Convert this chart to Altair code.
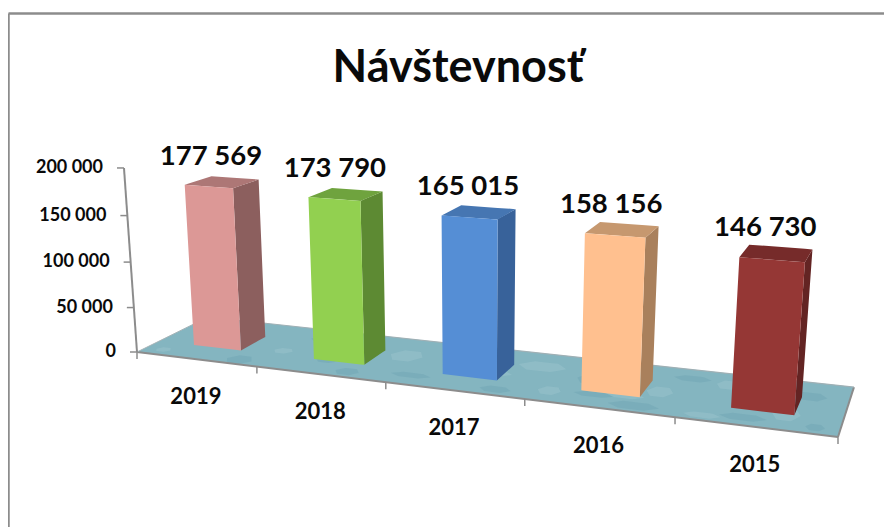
import altair as alt
import pandas as pd

title = "Návštevnosť"
years = ["2019", "2018", "2017", "2016", "2015"]
values = [177569, 173790, 165015, 158156, 146730]
labels = ["177 569", "173 790", "165 015", "158 156", "146 730"]
front = ["#DC9896", "#92D050", "#558ED5", "#FFC08F", "#953735"]
side = ["#8C5F5E", "#5D8A33", "#38629A", "#A9805C", "#632423"]
top = ["#AD7776", "#6FA33E", "#4676B2", "#C6986F", "#762B2A"]
ticks = [0, 50000, 100000, 150000, 200000]
tick_text = ["0", "50 000", "100 000", "150 000", "200 000"]
VMAX = 200000
# hand-placed mottles of the floor's water texture: u, w, radius u, radius w, tone
mottle_u = [.03, .16, .20, .24, .33, .38, .42, .47, .55, .58, .62, .68, .70, .74, .76, .79, .83, .84, .88, .93, .95, .97, .72, .66, .52, .28]
mottle_w = [.12, .10, .40, .75, .12, .60, .20, .80, .12, .70, .22, .25, .70, .12, .45, .80, .10, .75, .15, .30, .70, .12, .30, .55, .45, .30]
mottle_ru = [.012, .020, .015, .030, .018, .025, .030, .014, .022, .035, .016, .028, .020, .034, .018, .026, .024, .015, .030, .018, .022, .012, .026, .020, .032, .016]
mottle_rw = [.05, .09, .06, .08, .07, .12, .05, .09, .06, .10, .08, .05, .12, .07, .10, .06, .05, .09, .06, .12, .08, .06, .06, .10, .07, .05]
mottle_t = [0, 1, 0, 1, 1, 0, 1, 0, 1, 0, 0, 1, 0, 1, 0, 1, 0, 0, 1, 0, 1, 1, 0, 1, 0, 1]

W, H = 876, 519
FONT = "Lato"
GRAY = "#8C8C8C"


def proj(u, w, val):
    """Perspective camera of the 3-D chart: category u, depth w, value val."""
    v = val / VMAX
    d = -0.1747 * u + 0.0895 * w - 0.045 * v + 1
    return ((554.6 * u + 89.6 * w - 18.6 * v - 5.5 * u * v + 137) / d,
            (8.7 * u - 6.6 * w - 191.6 * v + 352) / d)


def poly_rows(pid, fill, pts, op=1.0):
    xs = sorted({round(p[0], 2) for p in pts})
    n = len(pts)
    rows = []
    for x in xs:
        ys = []
        for i in range(n):
            (x0, y0), (x1, y1) = pts[i], pts[(i + 1) % n]
            lo, hi = min(x0, x1), max(x0, x1)
            if lo - 0.01 <= x <= hi + 0.01:
                if abs(x1 - x0) < 1e-6:
                    ys += [y0, y1]
                else:
                    ys.append(y0 + (y1 - y0) * (x - x0) / (x1 - x0))
        rows.append(dict(pid=pid, fill=fill, op=op, x=x, y=min(ys), y2=max(ys)))
    return rows


U0, U1, W0, W1 = 0.06, 0.14, 0.30, 0.67
floor_rows = poly_rows("floor", "#84B5C0",
                       [proj(0, 0, 0), proj(1, 0, 0), proj(1, 1, 0), proj(0, 1, 0)])
tones = ["#A9CDD5", "#649CAB"]
for k, (mu, mw, ru, rw, mt) in enumerate(zip(mottle_u, mottle_w, mottle_ru, mottle_rw, mottle_t)):
    hexa = [(mu - ru, mw), (mu - ru / 2, mw - rw), (mu + ru / 2, mw - rw),
            (mu + ru, mw), (mu + ru / 2, mw + rw), (mu - ru / 2, mw + rw)]
    floor_rows += poly_rows(f"m{k:02d}", tones[mt], [proj(p, q, 0) for p, q in hexa], 0.3)

bar_rows, value_rows, year_rows = [], [], []
for i, val in enumerate(values):
    a, b = U0 + 0.2 * i, U1 + 0.2 * i
    bar_rows += poly_rows(f"s{i}", side[i], [proj(b, W0, 0), proj(b, W1, 0), proj(b, W1, val), proj(b, W0, val)])
    bar_rows += poly_rows(f"t{i}", top[i], [proj(a, W0, val), proj(b, W0, val), proj(b, W1, val), proj(a, W1, val)])
    bar_rows += poly_rows(f"f{i}", front[i], [proj(a, W0, 0), proj(b, W0, 0), proj(b, W0, val), proj(a, W0, val)])
    x, y = proj((a + b) / 2, (W0 + W1) / 2, val)
    value_rows.append(dict(x=x, y=y, t=labels[i]))
    x, y = proj((a + b) / 2, 0, 0)
    year_rows.append(dict(x=x, y=y, t=years[i]))

seg = []


def add(p, q, color, sw):
    seg.append(dict(x=p[0], y=p[1], x2=q[0], y2=q[1], color=color, sw=sw))


# chart frame
add((8.5, 13.5), (8.5, 527), GRAY, 2.5)
add((8.5, 13.5), (892, 13.5), GRAY, 2.5)
# floor edges
add(proj(0, 0, 0), proj(1, 0, 0), GRAY, 2)
add(proj(1, 0, 0), proj(1, 1, 0), GRAY, 2)
add(proj(0, 0, 0), proj(0, 1, 0), "#A6B4B8", 1)
add(proj(0, 1, 0), proj(1, 1, 0), "#9FB0B5", 1.2)
# value axis
add(proj(0, 0, 0), proj(0, 0, VMAX), GRAY, 2)
axis_rows = []
for t, s in zip(ticks, tick_text):
    p = proj(0, 0, t)
    add((p[0] - 7, p[1]), p, GRAY, 1.5)
    axis_rows.append(dict(x=p[0] - 21, y=p[1], t=s))
# category ticks
for i in range(6):
    p = proj(0.2 * i, 0, 0)
    add(p, (p[0], p[1] + 7), GRAY, 1.5)

X = alt.Scale(domain=[8, 8 + W], nice=False, zero=False)
Y = alt.Scale(domain=[8 + H, 8], nice=False, zero=False)
ex = alt.X("x:Q", scale=X, axis=None)
ey = alt.Y("y:Q", scale=Y, axis=None)


def areas(rows):
    return alt.Chart(pd.DataFrame(rows)).mark_area(interpolate="linear", clip=True).encode(
        x=ex, y=ey, y2="y2:Q", fill=alt.Fill("fill:N", scale=None),
        opacity=alt.Opacity("op:Q", scale=None), detail="pid:N")


def texts(rows, **kw):
    return alt.Chart(pd.DataFrame(rows)).mark_text(font=FONT, color="#0A0A0A", fontWeight="bold", **kw).encode(
        x=ex, y=ey, text="t:N")


lines = alt.Chart(pd.DataFrame(seg)).mark_rule().encode(
    x=ex, y=ey, x2="x2:Q", y2="y2:Q",
    color=alt.Color("color:N", scale=None),
    strokeWidth=alt.StrokeWidth("sw:Q", scale=None))

title_mark = texts([dict(x=458, y=68, t=title)], fontSize=45, align="center", baseline="middle")

chart = alt.layer(
    areas(floor_rows),
    lines,
    areas(bar_rows),
    texts(value_rows, fontSize=27.5, align="center", baseline="middle", dx=-11, dy=-25),
    texts(year_rows, fontSize=22, align="center", baseline="middle", dy=38),
    texts(axis_rows, fontSize=18, align="right", baseline="middle"),
    title_mark,
).properties(width=W, height=H, padding=0, autosize=alt.AutoSizeParams(type="none")
).configure_view(stroke=None)

chart.save("out.html", embed_options={"renderer": "svg", "actions": False})
